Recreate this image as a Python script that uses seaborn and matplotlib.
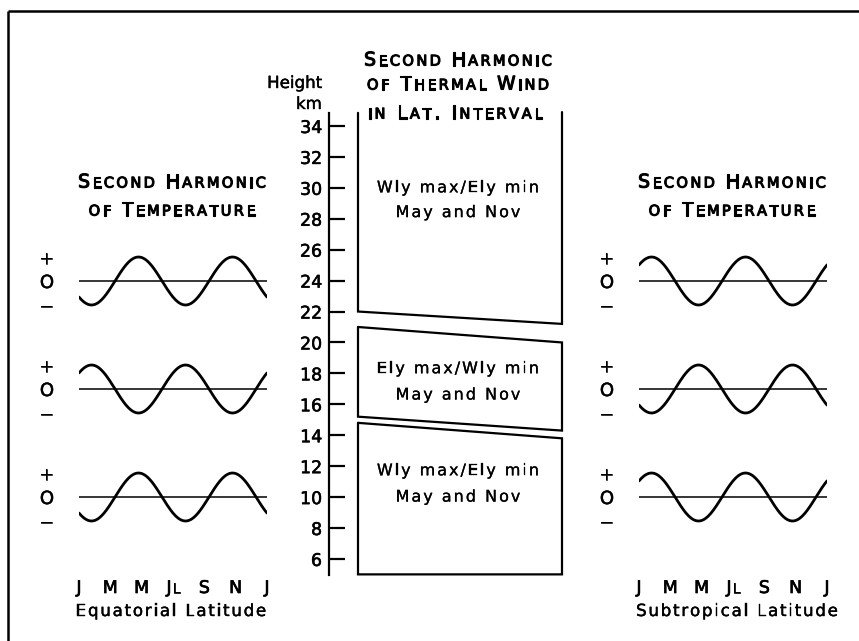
import numpy as np
import pandas as pd
import matplotlib
matplotlib.use("Agg")
import matplotlib.pyplot as plt
import matplotlib.patheffects as pe
import seaborn as sns
from matplotlib.offsetbox import TextArea, HPacker, AnnotationBbox

# ---------------- data ----------------
months = ["J", "M", "M", "Jl", "S", "N", "J"]
month_pos = [0, 2, 4, 6, 8, 10, 12]
heights_km = [6, 8, 10, 12, 14, 16, 18, 20, 22, 24, 26, 28, 30, 32, 34]
# month of maximum of the second harmonic (period 6 months), top to bottom
equatorial_phase = [3.8, 0.8, 3.8]
subtropical_phase = [0.8, 3.8, 0.8]
amplitude = 1.0
sign_labels = ["+", "O", "\u2212"]
# thermal-wind layers: (height at left edge bottom, top), (right edge bottom, top) in km
layer_left = [(22.0, 34.85), (15.2, 21.0), (5.0, 14.8)]
layer_right = [(21.2, 34.9), (14.3, 20.0), (5.0, 13.8)]
layer_text = [("Wly max/Ely min", "May and Nov"),
              ("Ely max/Wly min", "May and Nov"),
              ("Wly max/Ely min", "May and Nov")]
layer_text_km = [(30.0, 28.4), (18.3, 16.6), (11.7, 10.0)]

# ---------------- figure ----------------
sns.set_style("white")
plt.rcParams["font.family"] = ["DejaVu Sans"]
plt.rcParams["text.color"] = "black"
plt.rcParams["xtick.color"] = "black"
plt.rcParams["ytick.color"] = "black"
plt.rcParams["xtick.labelcolor"] = "black"
plt.rcParams["ytick.labelcolor"] = "black"
W, H = 859, 641
fig = plt.figure(figsize=(W / 100, H / 100), dpi=100)
fig.patch.set_facecolor("white")


def rect(x0, y0, x1, y1):
    return [x0 / W, 1 - y1 / H, (x1 - x0) / W, (y1 - y0) / H]


bg = fig.add_axes([0, 0, 1, 1], zorder=0)
bg.set_xlim(0, W)
bg.set_ylim(H, 0)
bg.axis("off")

# frame (top and left edges)
bg.plot([8, W], [11, 11], color="black", lw=1.8, solid_capstyle="butt")
bg.plot([8, 8], [11, H], color="black", lw=1.8, solid_capstyle="butt")


def spaced(ax, x, y, s, size, small=None, track=1.5, stroke=0.0, ha=0.5, xycoords="data"):
    kids = []
    effects = [pe.withStroke(linewidth=stroke, foreground="black")] if stroke > 0 else []
    for ch in s:
        if small is not None and ch.isalpha() and ch.islower():
            props = dict(fontsize=small, color="black", path_effects=effects)
            kids.append(TextArea(ch.upper(), textprops=props))
        else:
            props = dict(fontsize=size, color="black", path_effects=effects)
            kids.append(TextArea(ch, textprops=props))
    pack = HPacker(children=kids, align="baseline", pad=0, sep=track)
    ab = AnnotationBbox(pack, (x, y), xycoords=xycoords, frameon=False,
                        box_alignment=(ha, 0.5), pad=0, annotation_clip=False)
    ax.add_artist(ab)


# ---------------- wave panels ----------------
t = np.linspace(0, 12, 241)
offsets = [0.0, -4.5, -9.0]


def wave_panel(x0, x1, phases, title_x, lat_label, lat_x):
    ax = fig.add_axes(rect(x0, 240, x1, 540), zorder=2)
    ax.patch.set_alpha(0)
    rows = []
    for i, (ph, off) in enumerate(zip(phases, offsets)):
        vals = off + amplitude * np.cos(2 * np.pi * (t - ph) / 6.0)
        rows.append(pd.DataFrame({"month": t, "value": vals, "wave": i}))
    df = pd.concat(rows, ignore_index=True)
    sns.lineplot(data=df, x="month", y="value", units="wave", estimator=None,
                 color="black", lw=2.0, ax=ax, legend=False)
    for off in offsets:
        ax.plot([0, 12], [off, off], color="black", lw=1.1, solid_capstyle="butt")
    ax.set_xlim(0, 12)
    ax.set_ylim(-(540 - 281) / 24, -(240 - 281) / 24)
    ticks, labels = [], []
    for off in offsets:
        ticks += [off + amplitude, off, off - amplitude]
        labels += sign_labels
    ax.set_yticks(ticks)
    ax.set_yticklabels(labels, fontsize=13)
    for lab in ax.get_yticklabels():
        lab.set_path_effects([pe.withStroke(linewidth=0.4, foreground="black")])
    ax.tick_params(axis="y", length=0, pad=18, labelcolor="black")
    ax.set_xticks([])
    ax.set_xlabel("")
    ax.set_ylabel("")
    for sp in ax.spines.values():
        sp.set_visible(False)
    # month labels
    for m, lab in zip(month_pos, months):
        spaced(ax, m, 641 - 588, lab, 12.5, small=9.5, track=0.5, stroke=0.5,
               xycoords=("data", "figure pixels"))
    spaced(bg, lat_x, 611, lat_label, 12, track=1.3, stroke=0.3)
    spaced(bg, title_x, 182, "Second Harmonic", 13.5, small=10.5, track=1.7, stroke=0.8)
    spaced(bg, title_x, 210, "of Temperature", 13.5, small=10.5, track=1.7, stroke=0.8)
    return ax


wave_panel(79, 267, equatorial_phase, 172, "Equatorial Latitude", 171)
wave_panel(639, 827, subtropical_phase, 732, "Subtropical Latitude", 737)

# ---------------- height axis with layers ----------------
axh = fig.add_axes(rect(329, 113, 570, 575), zorder=2)
axh.patch.set_alpha(0)
axh.set_xlim(329, 570)
axh.set_ylim(4.96, 34.84)
for name, sp in axh.spines.items():
    sp.set_visible(name == "left")
axh.spines["left"].set_linewidth(1.6)
axh.spines["left"].set_color("black")
axh.set_yticks(heights_km)
axh.set_yticklabels([str(h) for h in heights_km], fontsize=12.5)
for lab in axh.get_yticklabels():
    lab.set_path_effects([pe.withStroke(linewidth=0.4, foreground="black")])
axh.tick_params(axis="y", left=True, direction="in", length=11.5, width=1.6, pad=5,
                color="black", labelcolor="black")
axh.set_xticks([])

xl, xr = 358, 562
for i, ((lb, lt), (rb, rt)) in enumerate(zip(layer_left, layer_right)):
    if i == 0:
        xs = [xl, xl, xr, xr]
        ys = [lt, lb, rb, rt]
    else:
        xs = [xl, xr, xr, xl, xl]
        ys = [lt, rt, rb, lb, lt]
    axh.plot(xs, ys, color="black", lw=1.6, clip_on=False, solid_joinstyle="miter")
    for txt, yk in zip(layer_text[i], layer_text_km[i]):
        spaced(axh, 458, yk, txt, 11.5, track=1.4, stroke=0.2)

hk_fx = [pe.withStroke(linewidth=0.3, foreground="black")]
bg.text(322, 83, "Height", ha="right", va="center", fontsize=12, color="black", path_effects=hk_fx)
bg.text(322, 104, "km", ha="right", va="center", fontsize=12, color="black", path_effects=hk_fx)
spaced(bg, 458, 60, "Second Harmonic", 13.5, small=10.5, track=1.7, stroke=0.8)
spaced(bg, 458, 84, "of Thermal Wind", 13.5, small=10.5, track=1.7, stroke=0.8)
spaced(bg, 455, 113, "in Lat. Interval", 13.5, small=10.5, track=1.9, stroke=0.8)

fig.savefig("out.png", dpi=100, facecolor="white")
